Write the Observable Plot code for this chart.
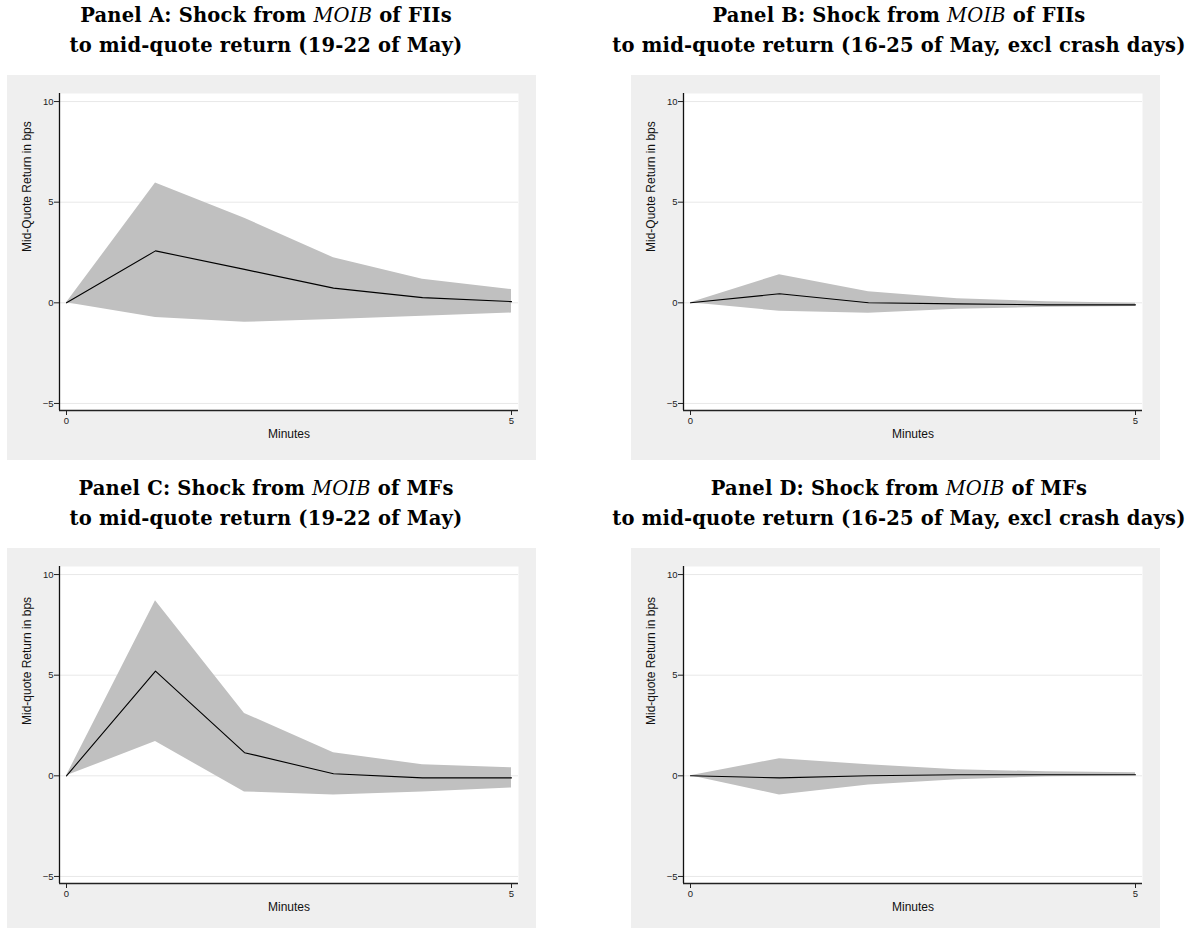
<!DOCTYPE html>
<html><head><meta charset="utf-8">
<script src="https://cdn.jsdelivr.net/npm/d3@7"></script>
<script src="https://cdn.jsdelivr.net/npm/@observablehq/plot@0.6"></script>
<style>
html,body{margin:0;padding:0;background:#fff;overflow:hidden;width:1199px;height:928px;}
#root{position:relative;width:1199px;height:928px;overflow:hidden;}
.title{position:absolute;width:800px;text-align:center;font-family:"DejaVu Serif",serif;font-weight:bold;font-size:19.5px;letter-spacing:0.2px;color:#000;white-space:nowrap;line-height:30px;}
.title i{font-weight:normal;}
.panel{position:absolute;width:529px;height:385px;background:#efefef;}
.panel svg{display:block;}
</style></head><body><div id="root"></div>
<script>
// Data
const minutes = [0, 1, 2, 3, 4, 5];
const xTicks = [0, 5];
const yTicks = [-5, 0, 5, 10];

const aIrf   = [0, 2.58, 1.66, 0.73, 0.26, 0.06];
const aUpper = [0, 5.95, 4.20, 2.24, 1.17, 0.66];
const aLower = [0, -0.73, -0.97, -0.83, -0.67, -0.51];

const bIrf   = [0, 0.45, 0.00, -0.05, -0.10, -0.10];
const bUpper = [0, 1.40, 0.55, 0.20, 0.05, -0.02];
const bLower = [0, -0.42, -0.52, -0.32, -0.22, -0.18];

const cIrf   = [0, 5.20, 1.15, 0.10, -0.10, -0.10];
const cUpper = [0, 8.70, 3.10, 1.15, 0.55, 0.40];
const cLower = [0, 1.70, -0.80, -0.95, -0.80, -0.60];

const dIrf   = [0, -0.10, 0.00, 0.05, 0.05, 0.05];
const dUpper = [0, 0.85, 0.55, 0.30, 0.20, 0.15];
const dLower = [0, -0.95, -0.45, -0.20, -0.05, 0.00];

const titles1 = [
  'Panel A: Shock from <i>MOIB</i> of FIIs',
  'Panel B: Shock from <i>MOIB</i> of FIIs',
  'Panel C: Shock from <i>MOIB</i> of MFs',
  'Panel D: Shock from <i>MOIB</i> of MFs'
];
const titles2 = [
  'to mid-quote return (19-22 of May)',
  'to mid-quote return (16-25 of May, excl crash days)',
  'to mid-quote return (19-22 of May)',
  'to mid-quote return (16-25 of May, excl crash days)'
];
const yLabels = [
  'Mid-Quote Return in bps',
  'Mid-Quote Return in bps',
  'Mid-quote Return in bps',
  'Mid-quote Return in bps'
];
const xLabel = 'Minutes';

const series = [
  {irf: aIrf, hi: aUpper, lo: aLower},
  {irf: bIrf, hi: bUpper, lo: bLower},
  {irf: cIrf, hi: cUpper, lo: cLower},
  {irf: dIrf, hi: dUpper, lo: dLower}
];

// layout
const panelPos = [
  {left: 7, top: 75, tx: 266, ty: 1},
  {left: 631, top: 75, tx: 899, ty: 1},
  {left: 7, top: 548, tx: 266, ty: 474},
  {left: 631, top: 548, tx: 899, ty: 474}
];

const xDom = [-7/89, 5 + 7/89];
const yDom = [-5.35, 10.4];

function makePlot(k) {
  const s = series[k];
  const data = minutes.map((m, i) => ({m, irf: s.irf[i], lo: s.lo[i], hi: s.hi[i]}));
  return Plot.plot({
    width: 529, height: 385,
    marginLeft: 52, marginRight: 18, marginTop: 18, marginBottom: 50,
    style: {background: "#efefef", fontFamily: "'Liberation Sans', Arial, sans-serif", fontSize: "9.5px", color: "#222"},
    x: {domain: xDom},
    y: {domain: yDom},
    marks: [
      Plot.frame({fill: "white", stroke: "none"}),
      Plot.gridY(yTicks, {stroke: "#e8e8e8", strokeOpacity: 1}),
      Plot.areaY(data, {x: "m", y1: "lo", y2: "hi", fill: "#c0c0c0", curve: "linear"}),
      Plot.lineY(data, {x: "m", y: "irf", stroke: "#000", strokeWidth: 1.1}),
      Plot.ruleX([xDom[0]], {stroke: "#111", strokeWidth: 1.3}),
      Plot.ruleY([yDom[0]], {stroke: "#222", strokeWidth: 1.3}),
      Plot.axisY(yTicks, {tickSize: 5, tickPadding: 1, label: null, fontSize: 9.5}),
      Plot.axisX(xTicks, {tickSize: 5, tickPadding: 2, label: null, fontSize: 9.5}),
      Plot.text([yLabels[k]], {text: d => d, frameAnchor: "left", dx: -32, rotate: -90, fontSize: 12, fill: "#111"}),
      Plot.text([xLabel], {text: d => d, frameAnchor: "bottom", dy: 27, fontSize: 12, fill: "#111"})
    ]
  });
}

const root = document.getElementById("root");
for (let k = 0; k < 4; k++) {
  const p = panelPos[k];
  const t = document.createElement("div");
  t.className = "title";
  t.style.left = (p.tx - 400) + "px";
  t.style.top = p.ty + "px";
  t.innerHTML = titles1[k] + "<br>" + titles2[k];
  root.appendChild(t);
  const box = document.createElement("div");
  box.className = "panel";
  box.style.left = p.left + "px";
  box.style.top = p.top + "px";
  box.appendChild(makePlot(k));
  root.appendChild(box);
}
</script></body></html>
